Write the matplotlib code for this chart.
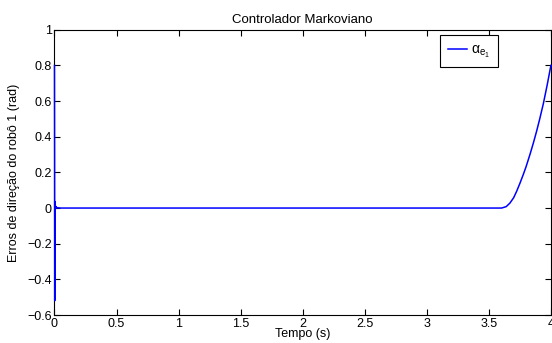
import matplotlib
matplotlib.use("Agg")
import matplotlib.pyplot as plt
import numpy as np

plt.rcParams["font.family"] = ["Liberation Sans", "DejaVu Sans"]
plt.rcParams["mathtext.fontset"] = "custom"
plt.rcParams["mathtext.rm"] = "Liberation Sans"
plt.rcParams["mathtext.it"] = "Liberation Sans"

# values (time in s, error in rad)
tempo = [0.0, 0.001, 0.002, 0.003, 0.005, 0.008, 0.012, 0.02, 0.05,
         1.0, 2.0, 3.0, 3.603, 3.64, 3.67, 3.70, 3.724, 3.75, 3.778, 3.80,
         3.832, 3.86, 3.886, 3.91, 3.939, 3.97, 4.0]
alpha_e1 = [0.8, 0.3, -0.52, 0.02, 0.035, -0.005, 0.008, 0.002, 0.0,
            0.0, 0.0, 0.0, 0.0, 0.008, 0.028, 0.058, 0.094, 0.138, 0.189, 0.232,
            0.302, 0.368, 0.434, 0.50, 0.585, 0.69, 0.80]

x_ticks = np.arange(0, 4.01, 0.5)
y_ticks = np.arange(-0.6, 1.01, 0.2)

fig = plt.figure(figsize=(5.52, 3.43), dpi=100)
ax = fig.add_axes([0.0987, 0.0816, 0.8993, 0.8316])

ax.plot(tempo, alpha_e1, color="#0000ff", lw=1.1, label=r"$\alpha_{e_1}$",
        clip_on=False, zorder=3)

ax.set_xlim(0, 4)
ax.set_ylim(-0.6, 1)
ax.set_xticks(x_ticks)
ax.set_xticklabels([f"{v:g}" for v in x_ticks])
ax.set_yticks(y_ticks)
ax.set_yticklabels([f"{v:g}".replace("-", "\u2212") if abs(v) > 1e-9 else "0" for v in y_ticks])
ax.tick_params(direction="in", top=True, right=True, length=4, width=0.8,
               labelsize=9, pad=2)
for s in ax.spines.values():
    s.set_linewidth(0.8)

ax.set_title("Controlador Markoviano", fontsize=9.5, pad=5)
ax.set_xlabel("Tempo (s)", fontsize=9, labelpad=-1)
ax.set_ylabel("Erros de direção do robô 1 (rad)", fontsize=9, labelpad=5)

leg = ax.legend(loc="upper right", bbox_to_anchor=(0.893, 0.982), fontsize=10,
                fancybox=False, edgecolor="black", framealpha=1,
                handlelength=1.4, handletextpad=0.3, borderpad=0.55,
                borderaxespad=0)
leg.get_frame().set_linewidth(0.8)

fig.savefig("out.png", dpi=100)
